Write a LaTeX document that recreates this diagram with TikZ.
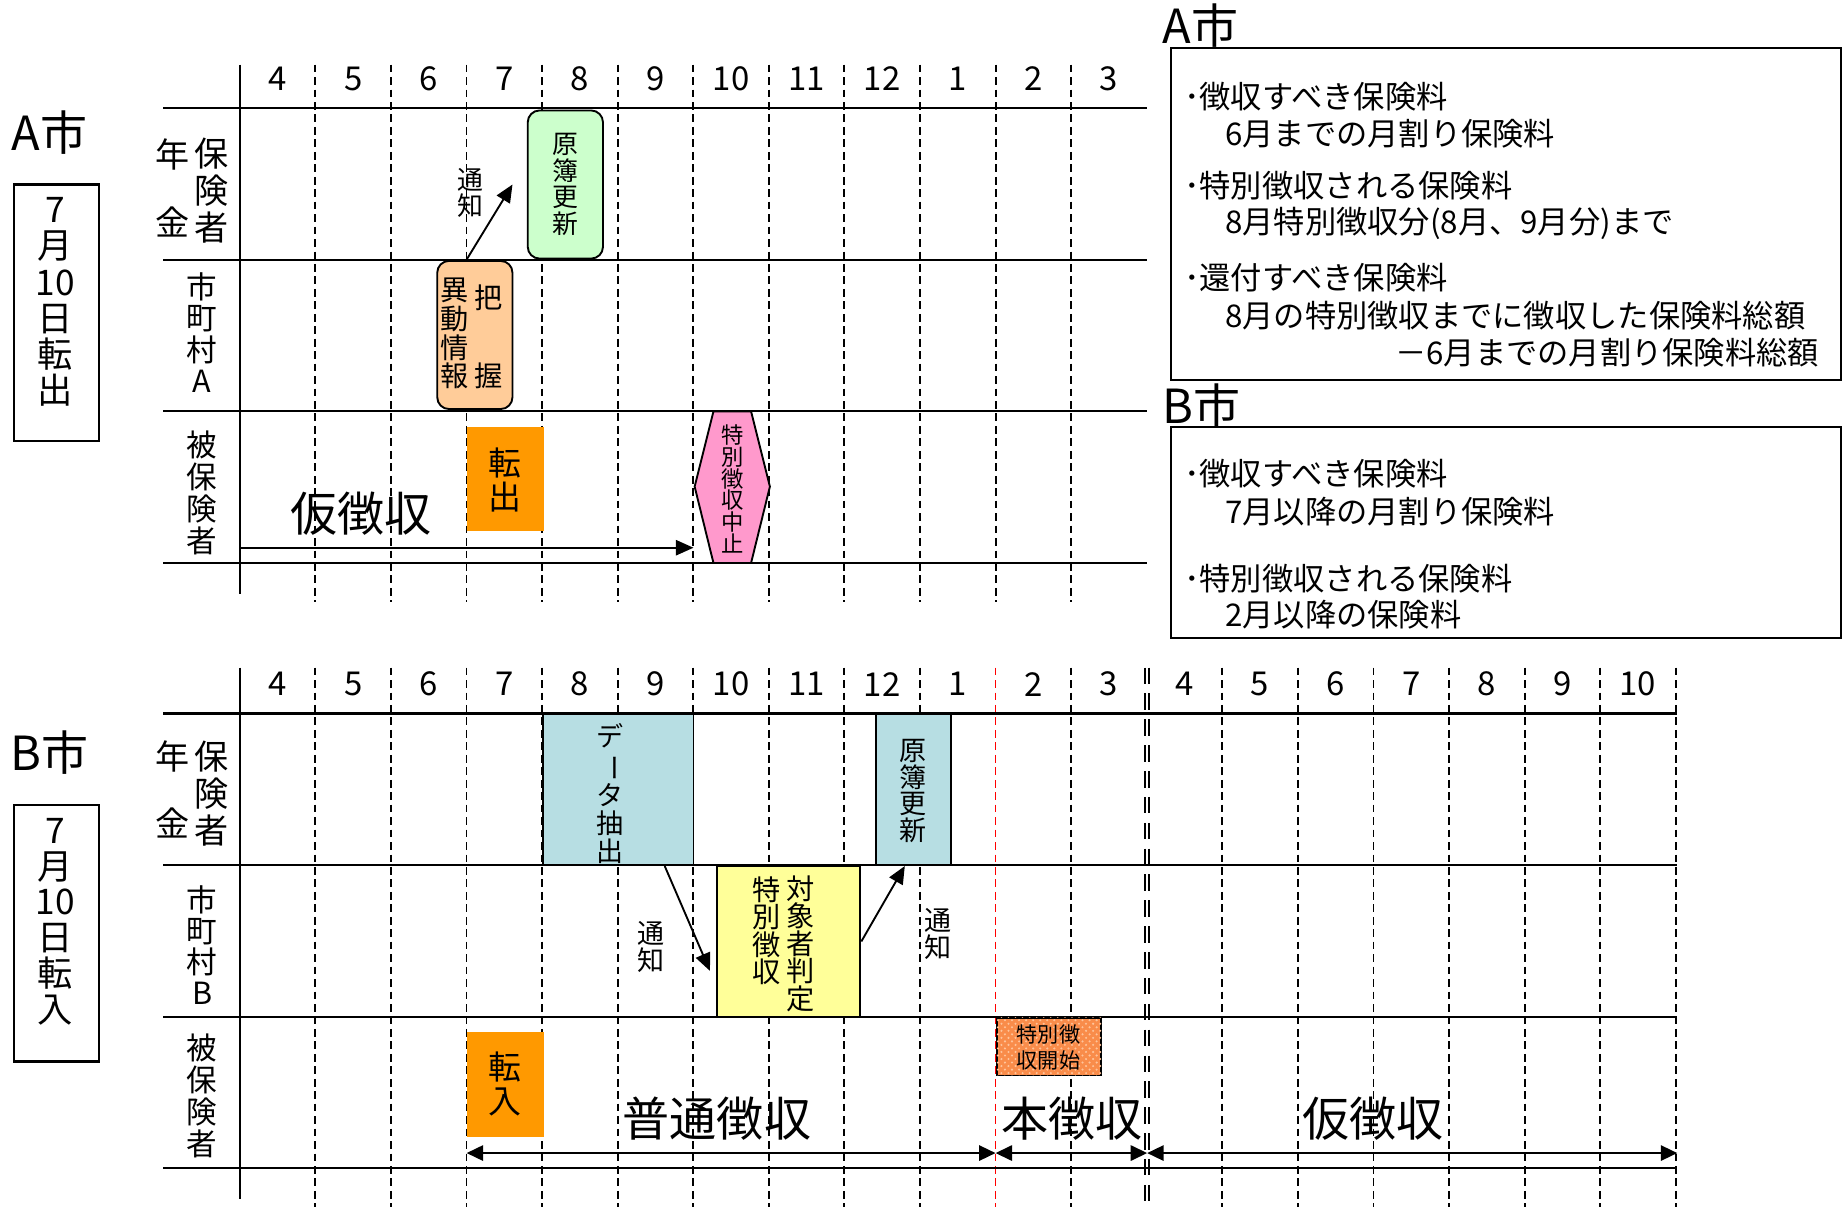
\documentclass[tikz,border=0pt]{standalone}
\usepackage{fontspec}
\usepackage{graphicx}
\setmainfont{Noto Sans CJK JP}
\usetikzlibrary{arrows.meta,fit,calc,patterns}
\newcommand{\jfs}[2]{\fontsize{#1}{#2}\selectfont}
\definecolor{gnA}{HTML}{CCFFCC}
\definecolor{orL}{HTML}{FFCC99}
\definecolor{orD}{HTML}{FF9900}
\definecolor{pk}{HTML}{FF99CC}
\definecolor{tl}{HTML}{B7DEE3}
\definecolor{yl}{HTML}{FFFF99}
\definecolor{orP}{HTML}{F98C4A}
\definecolor{orPd}{HTML}{FFC49A}
\begin{document}
\begin{tikzpicture}[x=0.5pt,y=-0.5pt,
  hline/.style={line width=0.9pt},
  axisline/.style={line width=0.9pt},
  dline/.style={line width=0.8pt, dash pattern=on 3.3pt off 2pt},
  rline/.style={line width=0.6pt, red, dash pattern=on 3.3pt off 2pt},
  dblline/.style={line width=0.6pt, dash pattern=on 7pt off 4pt},
  arr/.style={line width=0.8pt,-{Triangle[length=7.5pt,width=6.5pt]}},
  darr/.style={line width=0.9pt,{Triangle[length=7pt,width=6.5pt]}-{Triangle[length=7pt,width=6.5pt]}},
  fbox/.style={inner sep=0pt, line width=0.8pt},
  vtext/.style={align=center, inner sep=0pt},
  month/.style={inner sep=0pt, font=\jfs{14}{14}},
  rowlab/.style={vtext, font=\jfs{13}{13.3}},
  biglab/.style={inner sep=0pt, font=\jfs{20}{20}},
  note/.style={inner sep=0pt, anchor=west, font=\jfs{13.3}{13.3}},
  small/.style={vtext, font=\jfs{11}{11.3}}
]
\useasboundingbox (0,0) rectangle (1568,1027);

% ================= top chart (A) =================
\foreach \k in {1,...,11}
  \draw[dline] ({204+64.3*\k},55) -- ({204+64.3*\k},512);
\foreach \m [count=\i from 0] in {4,5,6,7,8,9,10,11,12,1,2,3}
  \node[month] (mA\i) at ({204+64.3*(\i+0.5)},67) {\m};
\foreach \yy in {92,221,350,479}
  \draw[hline] (139,\yy) -- (976,\yy);
\draw[axisline] (204,55) -- (204,505);

\node[biglab] (Acity) at (42,113) {A市};
\node[fit={(12,157) (84,375)}, fbox, draw, line width=1pt] (dateA) {};
\node[vtext, font=\jfs{15}{15.4}] (dateAt) at (47,257) {7\\月\\10\\日\\転\\出};

\node[vtext, font=\jfs{14.5}{29}] (nenA) at (147,160) {年\\金};
\node[vtext, font=\jfs{14.5}{15.75}] (hokA) at (180,162) {保\\険\\者};
\node[rowlab] (shiA) at (172,283) {市\\町\\村\\A};
\node[vtext, font=\jfs{13}{13.6}] (hihoA) at (172,419) {被\\保\\険\\者};

\node[fit={(449,94) (513,220)}, fbox, draw, fill=gnA, rounded corners=5pt] (genboA) {};
\node[small] (genboAt) at (genboA.center) {原\\簿\\更\\新};

\node[fit={(372,222) (436,348)}, fbox, draw, fill=orL, rounded corners=5pt] (idoA) {};
\node[vtext, font=\jfs{12}{12.2}] (idoAt) at (387,284) {異\\動\\情\\報};
\node[vtext, font=\jfs{12}{12}] (haA) at (416,253) {把};
\node[vtext, font=\jfs{12}{12}] (akuA) at (416,320) {握};

\coordinate (tsuA) at (436,157);
\draw[arr] ($(idoA.north west)!0.39!(idoA.north east)$) -- (tsuA);
\node[small] (tsuAt) at (400,164) {通\\知};

\node[fit={(397,363) (463,452)}, fbox, fill=orD] (tenshutsu) {};
\node[vtext, font=\jfs{14}{14.5}] (tenshutsut) at (430,408) {転\\出};

\draw[fill=pk, line width=0.8pt] (591,414) -- (607,350) -- (639,350) -- (655,414) -- (639,479) -- (607,479) -- cycle;
\node[vtext, font=\jfs{9.5}{9.2}] (hexA) at (623,416) {特\\別\\徴\\収\\中\\止};

\node[biglab] (kariA) at (307,437) {仮徴収};
\coordinate (kaS) at (204,466);
\coordinate (kaE) at (590,466);
\draw[arr] (kaS) -- (kaE);

% ================= right notes =================
\node[biglab, anchor=west] (AcityR) at (989,22) {A市};
\node[fit={(996,41) (1566,323)}, fbox, draw, line width=0.9pt] (noteA) {};
\node[note] (a1) at (1007,82) {･徴収すべき保険料};
\node[note] (a2) at (1042,114) {6月までの月割り保険料};
\node[note] (a3) at (1007,158) {･特別徴収される保険料};
\node[note] (a4) at (1042,190) {8月特別徴収分(8月、9月分)まで};
\node[note] (a5) at (1007,236) {･還付すべき保険料};
\node[note] (a6) at (1042,269) {8月の特別徴収までに徴収した保険料総額};
\node[note, anchor=east] (a7) at (1548,300) {－6月までの月割り保険料総額};

\node[biglab, anchor=west] (BcityR) at (989,345) {B市};
\node[fit={(996,363) (1566,543)}, fbox, draw, line width=0.9pt] (noteB) {};
\node[note] (b1) at (1007,403) {･徴収すべき保険料};
\node[note] (b2) at (1042,435) {7月以降の月割り保険料};
\node[note] (b3) at (1007,492) {･特別徴収される保険料};
\node[note] (b4) at (1042,523) {2月以降の保険料};

% ================= bottom chart (B) =================
\foreach \k in {1,...,9,11,13,14,15,16,17,18,19}
  \draw[dline] ({204+64.3*\k},568) -- ({204+64.3*\k},1027);
\draw[rline] ({204+64.3*10},568) -- ({204+64.3*10},1027);
\draw[dblline] (974.2,568) -- (974.2,1027);
\draw[dblline] (977.4,568) -- (977.4,1027);
\foreach \m [count=\i from 0] in {4,5,6,7,8,9,10,11,12,1,2,3,4,5,6,7,8,9,10}
  \node[month] (mB\i) at ({204+64.3*(\i+0.5)},582) {\m};

\node[fit={(462,607) (590,736)}, fbox, draw, fill=tl] (dataB) {};
\node[vtext, font=\jfs{11.5}{11.8}] (dataBt) at (519,675) {デ\\\rotatebox[origin=c]{-90}{ー}\\タ\\抽\\出};
\node[fit={(745,607) (809,736)}, fbox, draw, fill=tl] (genboB) {};
\node[vtext, font=\jfs{11.5}{11.4}] (genboBt) at (777,673) {原\\簿\\更\\新};
\node[fit={(610,737) (732,865)}, fbox, draw, fill=yl] (yelB) {};
\node[vtext, font=\jfs{12}{11.7}] (yelL) at (652,792) {特\\別\\徴\\収};
\node[vtext, font=\jfs{12}{11.7}] (yelR) at (681,803) {対\\象\\者\\判\\定};

\foreach \yy in {607,736,865,994}
  \draw[hline] (139,\yy) -- (1427,\yy);
\draw[axisline] (204,568) -- (204,1020);

\node[biglab] (Bcity) at (42,640) {B市};
\node[fit={(12,685) (84,903)}, fbox, draw, line width=1pt] (dateB) {};
\node[vtext, font=\jfs{15}{15.2}] (dateBt) at (47,784) {7\\月\\10\\日\\転\\入};

\node[vtext, font=\jfs{14.5}{28.5}] (nenB) at (147,672) {年\\金};
\node[vtext, font=\jfs{14.5}{15.75}] (hokB) at (180,675) {保\\険\\者};
\node[rowlab] (shiB) at (172,804) {市\\町\\村\\B};
\node[vtext, font=\jfs{13}{13.6}] (hihoB) at (172,932) {被\\保\\険\\者};

\coordinate (tsuB1) at (604,826);
\draw[arr] ($(dataB.south west)!0.805!(dataB.south east)$) -- (tsuB1);
\node[vtext, font=\jfs{11.5}{11.5}] (tsuB1t) at (554,806) {通\\知};
\draw[arr] (yelB.east) -- ($(genboB.south west)!0.39!(genboB.south east)$);
\node[vtext, font=\jfs{11.5}{11.5}] (tsuB2t) at (798,795) {通\\知};

\node[fit={(848,866) (937,915)}, fbox, draw, fill=orP, postaction={pattern=crosshatch dots, pattern color=orPd}] (tokuB) {};
\node[vtext, font=\jfs{9}{11}] (tokuBt) at (892,891) {特別徴\\収開始};

\node[fit={(397,878) (463,967)}, fbox, fill=orD] (tennyu) {};
\node[vtext, font=\jfs{14}{14.5}] (tennyut) at (430,922) {転\\入};

\node[biglab] (futsu) at (610,952) {普通徴収};
\node[biglab] (hon) at (912,952) {本徴収};
\node[biglab] (kariB) at (1168,952) {仮徴収};

\coordinate (pB0) at (397,981);
\coordinate (pB1) at (847,981);
\coordinate (pB2) at (976,981);
\coordinate (pB3) at (1427,981);
\draw[darr] (pB0) -- (pB1);
\draw[darr] (pB1) -- (pB2);
\draw[darr] (pB2) -- (pB3);
\end{tikzpicture}
\end{document}
